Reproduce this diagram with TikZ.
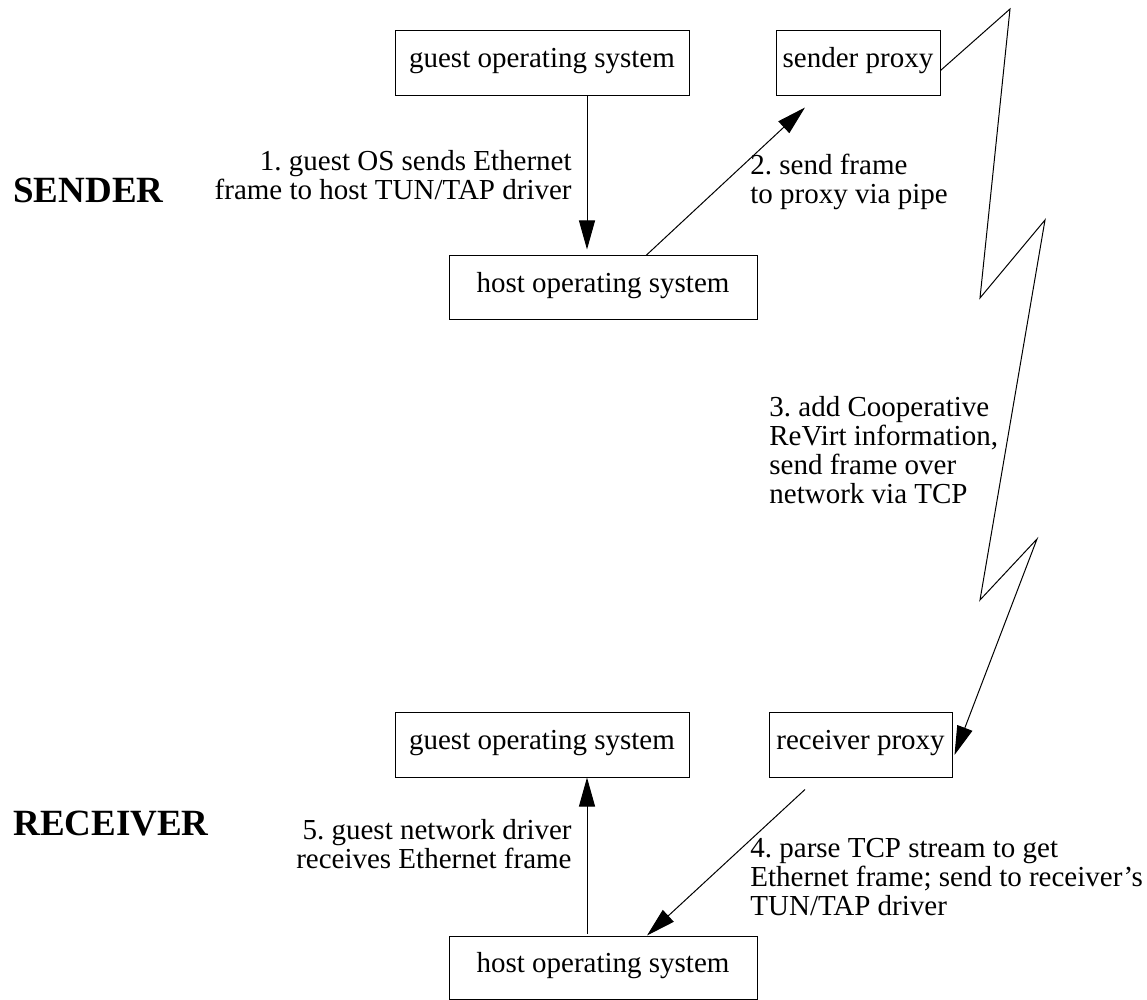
\documentclass[tikz,border=0pt]{standalone}
\usepackage{fontspec}
\setmainfont{Liberation Serif}
\frenchspacing
\usetikzlibrary{arrows.meta}

\tikzset{
  box/.style={draw, line width=0.5pt, inner sep=0pt, text height=0.7em, text depth=0.25em},
  arr/.style={line width=0.5pt, -{Triangle[length=14.5pt, width=8pt]}},
  note/.style={inner sep=0pt},
  side/.style={inner sep=0pt, font=\bfseries\fontsize{18.5pt}{20pt}\selectfont}
}

\begin{document}
\begin{tikzpicture}[x=0.5pt, y=-0.5pt, font=\fontsize{14.5pt}{14.5pt}\selectfont]
    \useasboundingbox (0, 0) rectangle (1147, 1000);
    % sender
    \node[box, minimum width=147pt, minimum height=32.5pt] (gsend) at (542, 63.5) {guest operating system};
    \node[box, minimum width=82pt, minimum height=32.5pt] (sproxy) at (858, 63.5) {sender proxy};
    \node[box, minimum width=154pt, minimum height=32pt] (hsend) at (603, 288) {host operating system};
    \node[side, anchor=base west] (sender) at (13, 203) {SENDER};
    \node[note, anchor=base east, align=right] (step1) at (572, 200)
	{1. guest OS sends Ethernet\\frame to host TUN/TAP driver};
    \node[note, anchor=base west, align=left] (step2) at (750, 204)
	{2. send frame\\to proxy via pipe};
    \draw[arr] ([xshift=22.5pt]gsend.south) -- ([xshift=-8pt, yshift=3pt]hsend.north);
    \draw[arr] ([xshift=21.5pt]hsend.north) -- ([xshift=-26.5pt, yshift=-5.5pt]sproxy.south);
    % receiver
    \node[box, minimum width=147pt, minimum height=32.5pt] (grecv) at (542, 744.5) {guest operating system};
    \node[box, minimum width=91.5pt, minimum height=32.5pt] (rproxy) at (860.5, 744.5) {receiver proxy};
    \node[box, minimum width=154pt, minimum height=31.5pt] (hrecv) at (603, 967.5) {host operating system};
    \node[side, anchor=base west] (receiver) at (13, 835) {RECEIVER};
    \node[note, anchor=base west, align=left] (step4) at (750, 915)
	{4. parse TCP stream to get\\Ethernet frame; send to receiver’s\\TUN/TAP driver};
    \node[note, anchor=base east, align=right] (step5) at (572, 868)
	{5. guest network driver\\receives Ethernet frame};
    \draw[arr] ([xshift=-27.75pt, yshift=-6pt]rproxy.south) -- ([xshift=22pt]hrecv.north);
    \draw[arr] ([xshift=-8pt, yshift=1pt]hrecv.north) -- ([xshift=22.5pt]grecv.south);
    % network link
    \node[note, anchor=base west, align=left] (step3) at (769, 503)
	{3. add Cooperative\\ReVirt information,\\send frame over\\network via TCP};
    \coordinate (z1) at (1010, 9);
    \coordinate (z2) at (980, 298);
    \coordinate (z3) at (1045, 220);
    \coordinate (z4) at (980, 600);
    \coordinate (z5) at (1037, 539);
    \draw[arr] ([yshift=-3.5pt]sproxy.east) -- (z1) -- (z2) -- (z3) -- (z4) -- (z5)
	-- ([xshift=1pt, yshift=-5.25pt]rproxy.east);
\end{tikzpicture}
\end{document}
